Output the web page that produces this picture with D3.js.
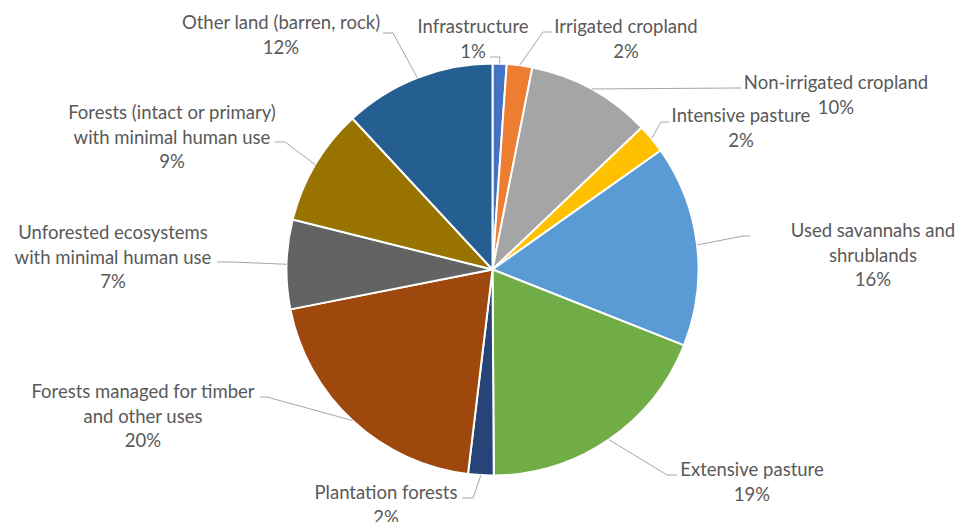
<!DOCTYPE html>
<html>
<head>
<meta charset="utf-8">
<script src="https://cdn.jsdelivr.net/npm/d3@7"></script>
<style>
  html, body { margin: 0; padding: 0; background: #fff; }
  svg { display: block; }
  text { font-family: Lato, "Open Sans", sans-serif; fill: #595959; }
</style>
</head>
<body>
<svg id="chart" width="957" height="522"></svg>
<script>
// Global land use shares (percent of ice-free land)
const categories = [
  "Infrastructure",
  "Irrigated cropland",
  "Non-irrigated cropland",
  "Intensive pasture",
  "Used savannahs and shrublands",
  "Extensive pasture",
  "Plantation forests",
  "Forests managed for timber and other uses",
  "Unforested ecosystems with minimal human use",
  "Forests (intact or primary) with minimal human use",
  "Other land (barren, rock)"
];
const shares = [1.1, 2.0, 9.8, 2.3, 15.8, 18.9, 2.0, 20.0, 7.0, 9.2, 11.9];
const colors = ["#4472C4", "#ED7D31", "#A5A5A5", "#FFC000", "#5B9BD5", "#70AD47",
                "#264478", "#9E480E", "#636363", "#997300", "#255E91"];

// How each category name wraps in its label
const labelLines = [
  ["Infrastructure"],
  ["Irrigated cropland"],
  ["Non-irrigated cropland"],
  ["Intensive pasture"],
  ["Used savannahs and", "shrublands"],
  ["Extensive pasture"],
  ["Plantation forests"],
  ["Forests managed for timber", "and other uses"],
  ["Unforested ecosystems", "with minimal human use"],
  ["Forests (intact or primary)", "with minimal human use"],
  ["Other land (barren, rock)"]
];

// Label placement: text centre and first-line centre, plus leader elbow/end
const labelLayout = [
  { x: 473, y: 27,  elbow: [500, 57],  end: [490, 57] },
  { x: 626, y: 27,  elbow: [543, 32],  end: [552, 32] },
  { x: 836, y: 83,  elbow: [736, 88],  end: [741, 88] },
  { x: 741, y: 116, elbow: [661, 122], end: [669, 122] },
  { x: 873, y: 231, elbow: [743, 236], end: [750, 236] },
  { x: 752, y: 470, elbow: [667, 475], end: [677, 475] },
  { x: 386, y: 493, elbow: [473, 498], end: [462, 498] },
  { x: 143, y: 392, elbow: [267, 397], end: [260, 397] },
  { x: 113, y: 233, elbow: [233, 262], end: [217, 262] },
  { x: 172, y: 113, elbow: [285, 142], end: [275, 142] },
  { x: 281, y: 23,  elbow: [393, 33],  end: [383, 33] }
];

const cx = 492.5, cy = 269.5, radius = 206, lineHeight = 24.5;
const total = d3.sum(shares);
const pct = d3.format(".0%");

const svg = d3.select("#chart");
const g = svg.append("g").attr("transform", `translate(${cx},${cy})`);

const pie = d3.pie().sort(null).value(d => d.value);
const arcs = pie(shares.map((v, i) => ({ value: v, i })));
const arc = d3.arc().innerRadius(0).outerRadius(radius);

g.selectAll("path.slice")
  .data(arcs)
  .join("path")
  .attr("class", "slice")
  .attr("d", arc)
  .attr("fill", d => colors[d.data.i])
  .attr("stroke", "#fff")
  .attr("stroke-width", 2)
  .attr("stroke-linejoin", "round");

// Leader lines start on the rim at each slice's mid-angle
const line = d3.line();
g.selectAll("path.leader")
  .data(arcs)
  .join("path")
  .attr("class", "leader")
  .attr("fill", "none")
  .attr("stroke", "#A6A6A6")
  .attr("stroke-width", 1)
  .attr("d", d => {
    const a = (d.startAngle + d.endAngle) / 2;
    const L = labelLayout[d.data.i];
    const start = [radius * Math.sin(a), -radius * Math.cos(a)];
    return line([start,
      [L.elbow[0] - cx, L.elbow[1] - cy],
      [L.end[0] - cx, L.end[1] - cy]]);
  });

// Category labels with percentage beneath
const labels = svg.selectAll("text.label")
  .data(arcs)
  .join("text")
  .attr("class", "label")
  .attr("text-anchor", "middle")
  .attr("font-size", 18.5);

labels.each(function(d) {
  const L = labelLayout[d.data.i];
  const rows = labelLines[d.data.i].concat([pct(d.data.value / total)]);
  d3.select(this).selectAll("tspan")
    .data(rows)
    .join("tspan")
    .attr("x", L.x)
    .attr("y", (r, k) => L.y + k * lineHeight)
    .attr("dy", "0.35em")
    .text(r => r);
});
</script>
</body>
</html>
